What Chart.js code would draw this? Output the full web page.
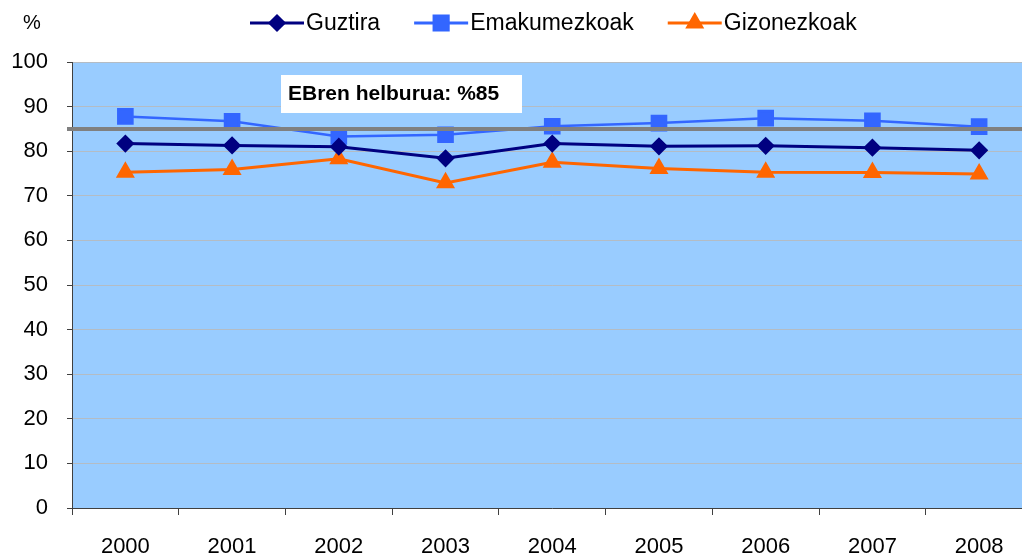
<!DOCTYPE html>
<html>
<head>
<meta charset="utf-8">
<script src="https://cdn.jsdelivr.net/npm/chart.js@4"></script>
<style>
  html, body { margin: 0; padding: 0; background: #fff; overflow: hidden; }
  #lineChart { position: absolute; left: 0; top: 0; }
</style>
</head>
<body>
<canvas id="lineChart" width="1045" height="557"></canvas>
<script>
const years = ['2000', '2001', '2002', '2003', '2004', '2005', '2006', '2007', '2008'];
const guztira = [81.7, 81.3, 81.0, 78.4, 81.7, 81.1, 81.2, 80.8, 80.2];
const emakumezkoak = [87.8, 86.7, 83.3, 83.7, 85.6, 86.3, 87.4, 86.8, 85.5];
const gizonezkoak = [75.3, 75.9, 78.3, 72.9, 77.5, 76.1, 75.3, 75.2, 74.9];
const target = 85;
const targetLabel = 'EBren helburua: %85';
const yTicks = [0, 10, 20, 30, 40, 50, 60, 70, 80, 90, 100];

const FONT = "'Liberation Sans', Arial, sans-serif";

// plot background, target line, label box and legend
const extras = {
  id: 'extras',
  beforeDraw(chart) {
    const { ctx, chartArea: a } = chart;
    ctx.save();
    ctx.fillStyle = '#99ccff';
    ctx.fillRect(a.left, a.top, a.right - a.left, a.bottom - a.top);
    ctx.restore();
  },
  afterDatasetsDraw(chart) {
    const { ctx, chartArea: a } = chart;
    const y = chart.scales.y.getPixelForValue(target);
    ctx.save();
    ctx.strokeStyle = '#808080';
    ctx.lineWidth = 4;
    ctx.beginPath();
    ctx.moveTo(a.left - 5, y);
    ctx.lineTo(chart.width, y);
    ctx.stroke();

    ctx.fillStyle = '#ffffff';
    ctx.fillRect(281, 75, 241, 38);
    ctx.fillStyle = '#000000';
    ctx.font = 'bold 21px ' + FONT;
    ctx.textBaseline = 'middle';
    ctx.fillText(targetLabel, 288, 94);
    ctx.restore();
  },
  afterDraw(chart) {
    const { ctx } = chart;
    ctx.save();
    ctx.font = '20px ' + FONT;
    ctx.fillStyle = '#000';
    ctx.textBaseline = 'middle';
    ctx.textAlign = 'center';
    ctx.fillText('%', 32, 23);

    ctx.textAlign = 'left';
    ctx.font = '23px ' + FONT;
    let x = 250;
    const ly = 23;
    chart.data.datasets.forEach(ds => {
      ctx.strokeStyle = ds.borderColor;
      ctx.lineWidth = 3;
      ctx.beginPath();
      ctx.moveTo(x, ly);
      ctx.lineTo(x + 54, ly);
      ctx.stroke();
      Chart.helpers.drawPoint(ctx, {
        pointStyle: ds.pointStyle, radius: ds.pointRadius, borderWidth: 1
      }, x + 27, ly);
      ctx.fillStyle = ds.pointBackgroundColor;
      ctx.strokeStyle = ds.pointBackgroundColor;
      ctx.fill();
      ctx.fillStyle = '#000';
      ctx.fillText(ds.label, x + 56, ly + 1);
      x += 56 + ctx.measureText(ds.label).width + 34;
    });
    ctx.restore();
  }
};

new Chart(document.getElementById('lineChart'), {
  type: 'line',
  data: {
    labels: years,
    datasets: [{
      label: 'Guztira',
      data: guztira,
      borderColor: '#000080',
      backgroundColor: '#000080',
      pointBackgroundColor: '#000080',
      pointBorderColor: '#000080',
      pointStyle: 'rectRot',
      pointRadius: 7,
      borderWidth: 3
    }, {
      label: 'Emakumezkoak',
      data: emakumezkoak,
      borderColor: '#3366ff',
      backgroundColor: '#3366ff',
      pointBackgroundColor: '#3366ff',
      pointBorderColor: '#3366ff',
      pointStyle: 'rect',
      pointRadius: 10,
      borderWidth: 2.5
    }, {
      label: 'Gizonezkoak',
      data: gizonezkoak,
      borderColor: '#ff6600',
      backgroundColor: '#ff6600',
      pointBackgroundColor: '#ff6600',
      pointBorderColor: '#ff6600',
      pointStyle: 'triangle',
      pointRadius: 8,
      borderWidth: 3
    }]
  },
  options: {
    responsive: false,
    animation: false,
    layout: { padding: { top: 62, left: 11, right: 0, bottom: 0 } },
    scales: {
      x: {
        offset: true,
        afterFit: axis => { axis.height = 49; },
        grid: {
          offset: true,
          drawOnChartArea: false,
          tickLength: 7,
          tickColor: '#404040'
        },
        border: { color: '#404040', width: 1 },
        ticks: { color: '#000', padding: 19, font: { family: FONT, size: 22 } }
      },
      y: {
        min: 0,
        max: 100,
        afterFit: axis => { axis.width = 61; },
        afterBuildTicks: axis => { axis.ticks = yTicks.map(v => ({ value: v })); },
        grid: { color: '#b4bcc4', tickLength: 5, tickColor: '#404040' },
        border: { color: '#404040', width: 1 },
        ticks: { color: '#000', padding: 19, font: { family: FONT, size: 22 } }
      }
    },
    plugins: {
      legend: { display: false },
      tooltip: { enabled: false }
    }
  },
  plugins: [extras]
});
</script>
</body>
</html>
